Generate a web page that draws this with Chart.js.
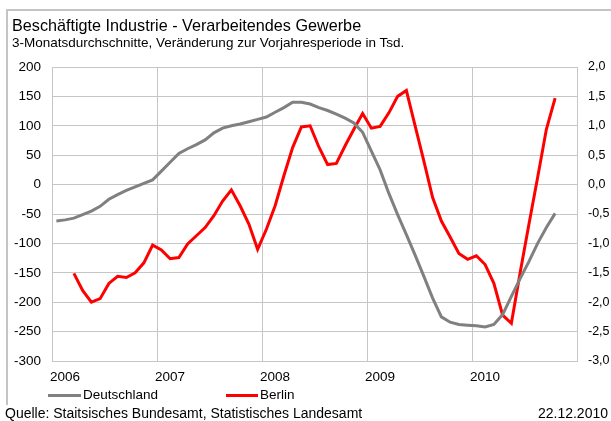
<!DOCTYPE html>
<html lang="de">
<head>
<meta charset="utf-8">
<title>Beschäftigte Industrie - Verarbeitendes Gewerbe</title>
<script src="https://cdn.jsdelivr.net/npm/chart.js@4.4.1/dist/chart.umd.min.js"></script>
<style>
  html, body { margin: 0; padding: 0; background: #fff; }
  #wrap { position: relative; width: 611px; height: 421px; overflow: hidden;
          font-family: "Liberation Sans", Arial, sans-serif; color: #000; }
  #wrap canvas { position: absolute; left: 0; top: 0; }
  .txt { position: absolute; white-space: nowrap; }
  #frameTop { position: absolute; left: 6px; top: 9px; width: 605px; height: 2px; background: #c4c4c4; }
  #frameLeft { position: absolute; left: 6px; top: 9px; width: 2px; height: 396px; background: #c4c4c4; }
  #title { left: 12px; top: 17px; font-size: 16.2px; line-height: 16px; }
  #subtitle { left: 12px; top: 36px; font-size: 13.5px; line-height: 14px; }
  .legend { top: 388px; font-size: 13.5px; line-height: 14px; }
  .swatch { position: absolute; height: 3px; top: 394px; }
  #source { left: 5px; top: 406px; font-size: 14px; line-height: 14px; }
  #date { right: 3px; top: 406px; font-size: 14px; line-height: 14px; }
</style>
</head>
<body>
<div id="wrap">
  <div id="frameTop"></div>
  <div id="frameLeft"></div>
  <canvas id="chart" width="611" height="421"></canvas>
  <div id="title" class="txt">Beschäftigte Industrie - Verarbeitendes Gewerbe</div>
  <div id="subtitle" class="txt">3-Monatsdurchschnitte, Veränderung zur Vorjahresperiode in Tsd.</div>
  <div class="swatch" style="left:48px;width:33px;background:#808080"></div>
  <div class="txt legend" style="left:83px">Deutschland</div>
  <div class="swatch" style="left:226px;width:32px;background:#ff0000"></div>
  <div class="txt legend" style="left:260px">Berlin</div>
  <div id="source" class="txt">Quelle: Staitsisches Bundesamt, Statistisches Landesamt</div>
  <div id="date" class="txt">22.12.2010</div>
</div>
<script>
// Monthly series, first month of the time axis = January of startYear
const startYear = 2006;
const yearCount = 5;

// Deutschland, change vs. previous year in thousand (left axis), from Jan 2006
const deutschlandStart = 0;
const deutschland = [
  -62, -60, -57, -51, -45, -37, -25, -17, -10, -4, 2, 8,
  23, 38, 53, 61, 68, 76, 88, 96, 100, 103, 107, 111,
  115, 123, 131, 140, 140, 137, 131, 126, 120, 113, 105, 89,
  57, 25, -15, -51, -85, -120, -156, -193, -225, -234, -238, -239,
  -240, -242, -238, -221, -190, -160, -131, -100, -73, -49
];

// Berlin, change vs. previous year in thousand (right axis), from Mar 2006
const berlinStart = 2;
const berlin = [
  -1.51, -1.80, -2.00, -1.94, -1.68, -1.56, -1.58, -1.50, -1.33, -1.03,
  -1.11, -1.26, -1.24, -1.01, -0.87, -0.73, -0.53, -0.28, -0.09, -0.36,
  -0.67, -1.10, -0.76, -0.36, 0.15, 0.63, 0.98, 1.00, 0.64, 0.34,
  0.36, 0.66, 0.94, 1.21, 0.96, 0.99, 1.22, 1.50, 1.60, 1.00,
  0.40, -0.22, -0.62, -0.89, -1.17, -1.27, -1.21, -1.36, -1.68, -2.22,
  -2.36, -1.50, -0.68, 0.12, 0.94, 1.47
];

// Axis ranges
const leftAxis = { min: -300, max: 200, step: 50 };
const rightAxis = { min: -3, max: 2, step: 0.5 };

// Each value sits in the middle of its month
const toPoints = (values, start) =>
  values.map((v, i) => ({ x: start + i + 0.5, y: v }));

const gridColor = '#c6c6c6';
const tickFont = { family: '"Liberation Sans", Arial, sans-serif', size: 13.5 };

new Chart(document.getElementById('chart'), {
  type: 'line',
  data: {
    datasets: [
      {
        label: 'Deutschland',
        data: toPoints(deutschland, deutschlandStart),
        yAxisID: 'y',
        borderColor: '#808080',
        borderWidth: 3,
        pointRadius: 0,
        tension: 0,
        fill: false
      },
      {
        label: 'Berlin',
        data: toPoints(berlin, berlinStart),
        yAxisID: 'y2',
        borderColor: '#ff0000',
        borderWidth: 3,
        pointRadius: 0,
        tension: 0,
        fill: false
      }
    ]
  },
  options: {
    responsive: false,
    animation: false,
    devicePixelRatio: 1,
    layout: { padding: { top: 67, left: 0, right: 0, bottom: 0 } },
    plugins: { legend: { display: false }, tooltip: { enabled: false }, title: { display: false } },
    scales: {
      x: {
        type: 'linear',
        min: 0,
        max: yearCount * 12,
        afterFit: s => { s.height = 60; },
        afterBuildTicks: s => {
          s.ticks = [];
          for (let k = 0; k <= yearCount; k++) s.ticks.push({ value: k * 12 });
        },
        ticks: {
          autoSkip: false,
          maxRotation: 0,
          align: 'start',
          labelOffset: -2,
          padding: 8,
          color: '#000',
          font: tickFont,
          callback: v => (v < yearCount * 12 ? String(startYear + v / 12) : '')
        },
        grid: { color: gridColor, lineWidth: 1, drawTicks: false },
        border: { color: gridColor, width: 1 }
      },
      y: {
        position: 'left',
        min: leftAxis.min,
        max: leftAxis.max,
        afterFit: s => { s.width = 52; },
        ticks: {
          stepSize: leftAxis.step,
          padding: 11,
          color: '#000',
          font: tickFont,
          callback: v => String(v)
        },
        grid: { color: gridColor, lineWidth: 1, drawTicks: false },
        border: { color: gridColor, width: 1 }
      },
      y2: {
        position: 'right',
        min: rightAxis.min,
        max: rightAxis.max,
        afterFit: s => { s.width = 34; },
        ticks: {
          stepSize: rightAxis.step,
          padding: 11,
          color: '#000',
          font: { family: tickFont.family, size: 12.5 },
          callback: v => Number(v).toFixed(1).replace('.', ',')
        },
        grid: { display: false, drawTicks: false },
        border: { color: gridColor, width: 1 }
      }
    }
  }
});
</script>
</body>
</html>
